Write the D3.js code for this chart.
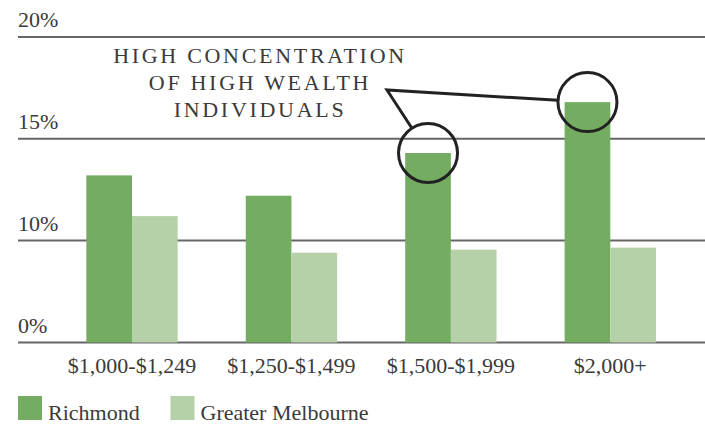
<!DOCTYPE html>
<html>
<head>
<meta charset="utf-8">
<script src="https://cdn.jsdelivr.net/npm/d3@7"></script>
<style>
  body { margin: 0; background: #fff; }
</style>
</head>
<body>
<svg id="chart" width="705" height="427"></svg>
<script>
// data
const categories = ["$1,000-$1,249", "$1,250-$1,499", "$1,500-$1,999", "$2,000+"];
const seriesNames = ["Richmond", "Greater Melbourne"];
const richmond = [13.2, 12.2, 14.3, 16.8];
const greaterMelbourne = [11.2, 8.8, 9.1, 9.3];
const yTicks = [0, 10, 15, 20];
const circled = [2, 3]; // Richmond bars that get the circle
const noteLines = ["HIGH CONCENTRATION", "OF HIGH WEALTH", "INDIVIDUALS"];

const colors = ["#74ad62", "#b5d1a7"];
const serif = "'Liberation Serif', serif";

const svg = d3.select("#chart")
    .style("font-family", serif);

// x: groups, then series inside each group
const x = d3.scaleBand()
    .domain(categories)
    .range([52.3, 690])
    .paddingInner(0.427)
    .paddingOuter(0.2134);

const x1 = d3.scaleBand()
    .domain(seriesNames)
    .range([0, x.bandwidth()]);

// axis in the original is not linear below 10%
const y = d3.scaleLinear()
    .domain([0, 10, 20])
    .range([342.5, 240.5, 37]);

function label(sel) {
    return sel.style("font-family", serif)
        .style("font-size", "22px")
        .attr("fill", "#3a3a3a");
}

// gridlines + labels
const grid = svg.append("g");
grid.selectAll("line")
    .data(yTicks)
    .enter().append("line")
    .attr("x1", 18)
    .attr("x2", 705)
    .attr("y1", d => y(d))
    .attr("y2", d => y(d))
    .style("stroke", "#666")
    .style("stroke-width", 2);

grid.selectAll("text")
    .data(yTicks)
    .enter().append("text")
    .attr("x", 18)
    .attr("y", d => y(d) - 10)
    .call(label)
    .text(d => d + "%");

// bars
const series = [richmond, greaterMelbourne];
const groups = svg.append("g").selectAll("g")
    .data(categories)
    .enter().append("g")
    .attr("transform", d => `translate(${x(d)},0)`);

groups.selectAll("rect")
    .data((d, i) => series.map((s, j) => ({ name: seriesNames[j], value: s[i], k: j })))
    .enter().append("rect")
    .attr("x", d => x1(d.name))
    .attr("width", x1.bandwidth())
    .attr("y", d => y(d.value))
    .attr("height", d => y(0) - y(d.value))
    .attr("fill", d => colors[d.k]);

// category labels
svg.append("g").selectAll("text")
    .data(categories)
    .enter().append("text")
    .attr("x", d => x(d) + x.bandwidth() / 2)
    .attr("y", 372.5)
    .attr("text-anchor", "middle")
    .call(label)
    .text(d => d);

// annotation
const note = svg.append("g");
note.selectAll("text")
    .data(noteLines)
    .enter().append("text")
    .attr("x", 260)
    .attr("y", (d, i) => 63 + i * 27)
    .attr("text-anchor", "middle")
    .call(label)
    .style("letter-spacing", "2.7px")
    .text(d => d);

const r = 29.5;
const anchor = [387, 90];
const targets = circled.map(i => ({
    cx: x(categories[i]) + x1(seriesNames[0]) + x1.bandwidth() / 2,
    cy: y(richmond[i])
}));

note.selectAll("circle")
    .data(targets)
    .enter().append("circle")
    .attr("cx", d => d.cx)
    .attr("cy", d => d.cy)
    .attr("r", r)
    .style("fill", "none")
    .style("stroke", "#222")
    .style("stroke-width", 3);

// leader lines stop on the circle edge
const ends = targets.map(t => {
    const dx = t.cx - anchor[0], dy = t.cy - anchor[1];
    const len = Math.sqrt(dx * dx + dy * dy);
    const k = (len - r) / len;
    return [anchor[0] + dx * k, anchor[1] + dy * k];
});

note.append("path")
    .attr("d", d3.line()([ends[0], anchor, ends[1]]))
    .style("fill", "none")
    .style("stroke", "#222")
    .style("stroke-width", 3)
    .style("stroke-linejoin", "miter");

// legend
const legend = svg.append("g");
const legendX = [18, 170.5];
legend.selectAll("rect")
    .data(seriesNames)
    .enter().append("rect")
    .attr("x", (d, i) => legendX[i])
    .attr("y", 396)
    .attr("width", 24)
    .attr("height", 24)
    .attr("fill", (d, i) => colors[i]);

legend.selectAll("text")
    .data(seriesNames)
    .enter().append("text")
    .attr("x", (d, i) => legendX[i] + 30)
    .attr("y", 420)
    .call(label)
    .text(d => d);
</script>
</body>
</html>
